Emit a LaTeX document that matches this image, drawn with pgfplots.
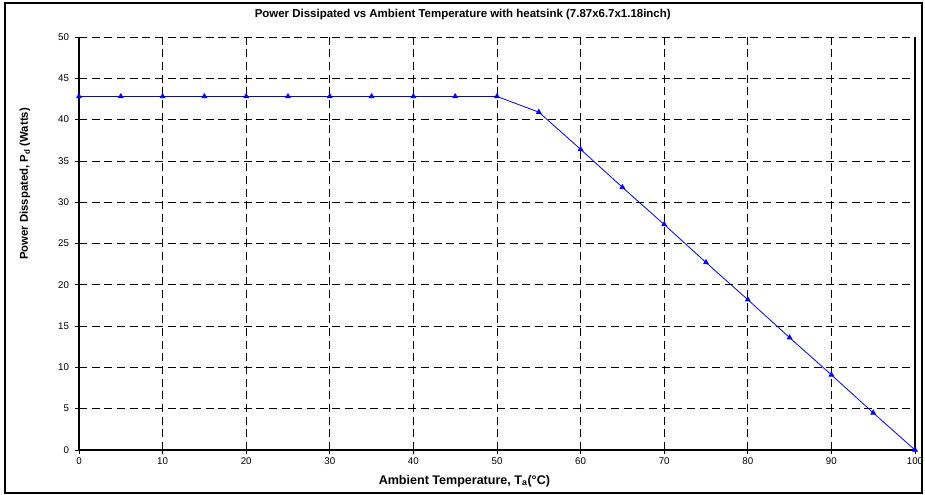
\documentclass[border=0pt]{standalone}
\usepackage{fontspec}
\setmainfont{Liberation Sans}
\usepackage{pgfplots}
\pgfplotsset{compat=1.18}

\begin{document}
\begin{tikzpicture}[x=0.75pt,y=0.75pt]
% page and outer chart frame (1 unit = 1 reference pixel)
\useasboundingbox (-79,-45) rectangle (846,450);
\draw[line width=1.2pt] (-74,-43) rectangle (843,447);
\begin{axis}[
    at={(0,0)}, anchor=south west,
    scale only axis,
    width=627pt, height=309.75pt,
    xmin=0, xmax=100, ymin=0, ymax=50,
    xtick={0,10,...,100},
    ytick={0,5,...,50},
    axis x line*=bottom, axis y line*=left,
    axis line style={black, line width=0.9pt, -},
    tick align=outside,
    major tick length=3pt,
    tick style={black, line width=0.5pt},
    grid=major,
    major grid style={black, dash pattern=on 6pt off 3.5pt, line width=0.5pt},
    tick label style={font=\fontsize{7.3}{8}\selectfont},
    /pgf/number format/assume math mode=true,
    xticklabel style={yshift=0.8pt},
    yticklabel style={xshift=-1pt},
    title={Power Dissipated vs Ambient Temperature with heatsink (7.87x6.7x1.18inch)},
    title style={font=\bfseries\fontsize{8.6}{9}\selectfont, at={(rel axis cs:0.459,1.034)}, anchor=center},
    xlabel={Ambient Temperature, T\textsubscript{a}(°C)},
    ylabel={Power Disspated, P\textsubscript{d} (Watts)},
    x label style={font=\bfseries\fontsize{9.4}{10}\selectfont, at={(rel axis cs:0.461,-0.075)}, anchor=center},
    y label style={font=\bfseries\fontsize{8.5}{9}\selectfont, at={(rel axis cs:-0.0646,0.644)}, anchor=center, rotate=0},
    clip=false,
]
\addplot[blue, line width=0.6pt, mark=triangle*, mark size=2pt, mark options={solid, fill=blue}]
  coordinates {
    (0,42.8) (5,42.8) (10,42.8) (15,42.8) (20,42.8) (25,42.8)
    (30,42.8) (35,42.8) (40,42.8) (45,42.8) (50,42.8)
    (55,40.9) (60,36.4) (65,31.8) (70,27.3) (75,22.7)
    (80,18.2) (85,13.6) (90,9.1) (95,4.5) (100,0)
  };
\draw[black, line width=0.9pt] (rel axis cs:1,0) -- (rel axis cs:1,1);
\end{axis}
\end{tikzpicture}
\end{document}
